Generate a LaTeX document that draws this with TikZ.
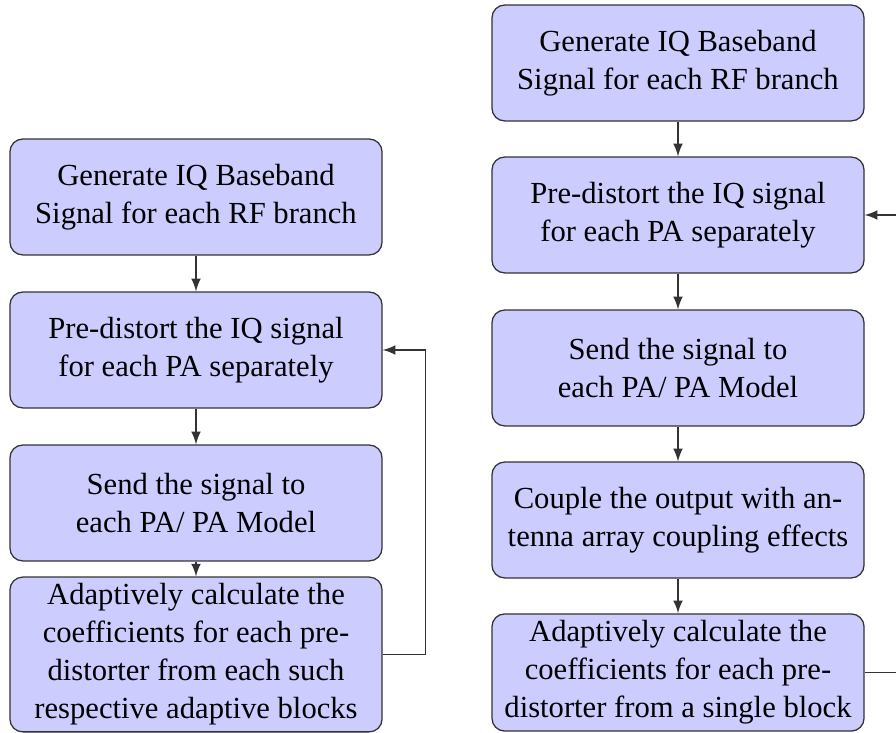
\documentclass[tikz,border=0pt]{standalone}
\usepackage{fontspec}
\setmainfont{Liberation Serif}
\usetikzlibrary{arrows}
\begin{document}
\begin{tikzpicture}[x=0.315pt,y=-0.315pt,
  blk/.style={draw=black!80, fill=blue!20, rounded corners=4pt, line width=0.4pt,
    minimum width=117.2pt, minimum height=36.5pt, align=center, inner sep=2pt,
    font=\fontsize{9.65}{12}\selectfont},
  tall/.style={minimum height=48.2pt},
  conn/.style={-latex, line width=0.4pt, draw=black!80}]
\path[use as bounding box] (0,0) rectangle (896,733);
\clip (0,0) rectangle (896,733);
% left column
\node[blk] (L1) at (196,197) {Generate IQ Baseband\\Signal for each RF branch};
\node[blk] (L2) at (196,350) {Pre-distort the IQ signal\\for each PA separately};
\node[blk] (L3) at (196,503) {Send the signal to\\each PA/ PA Model};
\node[blk,tall] (L4) at (196,654.5) {Adaptively calculate the\\coefficients for each pre-\\distorter from each such\\respective adaptive blocks};
\draw[conn] (L1) -- (L2);
\draw[conn] (L2) -- (L3);
\draw[conn] (L3) -- (L4);
\draw[conn] (L4.east) -- ++(43,0) |- (L2.east);
% right column
\node[blk] (R1) at (678,63) {Generate IQ Baseband\\Signal for each RF branch};
\node[blk] (R2) at (678,215) {Pre-distort the IQ signal\\for each PA separately};
\node[blk] (R3) at (678,368) {Send the signal to\\each PA/ PA Model};
\node[blk] (R4) at (678,520) {Couple the output with an-\\tenna array coupling effects};
\node[blk,minimum height=36.9pt] (R5) at (678,672.5) {Adaptively calculate the\\coefficients for each pre-\\distorter from a single block};
\draw[conn] (R1) -- (R2);
\draw[conn] (R2) -- (R3);
\draw[conn] (R3) -- (R4);
\draw[conn] (R4) -- (R5);
\draw[conn] (R5.east) -- ++(60,0) |- (R2.east);
\end{tikzpicture}
\end{document}
